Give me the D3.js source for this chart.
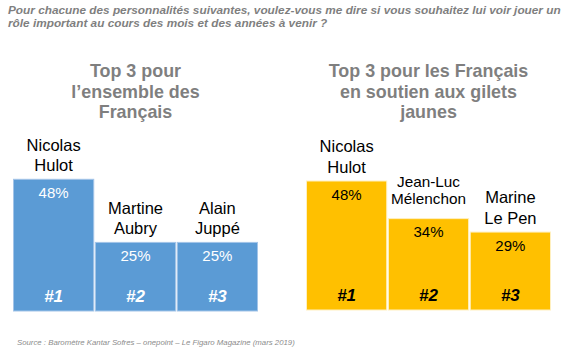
<!DOCTYPE html>
<html><head><meta charset="utf-8">
<script src="https://cdn.jsdelivr.net/npm/d3@7"></script>
<style>body{margin:0;background:#fff}svg{display:block;font-family:Arial,"Liberation Sans",sans-serif}</style>
</head><body>
<svg id="c" width="575" height="351"></svg>
<script>
const questionLines = ["Pour chacune des personnalités suivantes, voulez-vous me dire si vous souhaitez lui voir jouer un",
  "rôle important au cours des mois et des années à venir ?"];
const leftTitle = ["Top 3 pour", "l’ensemble des", "Français"];
const rightTitle = ["Top 3 pour les Français", "en soutien aux gilets", "jaunes"];
const leftNames = ["Nicolas\nHulot", "Martine\nAubry", "Alain\nJuppé"];
const leftValues = [48, 25, 25];
const rightNames = ["Nicolas\nHulot", "Jean-Luc\nMélenchon", "Marine\nLe Pen"];
const rightValues = [48, 34, 29];
const ranks = ["#1", "#2", "#3"];
const sourceText = "Source : Baromètre Kantar Sofres – onepoint – Le Figaro Magazine (mars 2019)";

const svg = d3.select("#c");

svg.append("g").selectAll("text").data(questionLines).join("text")
  .attr("x", 8).attr("y", (d, i) => 14 + i * 12.6)
  .attr("font-size", 11.8).attr("font-weight", "bold").attr("font-style", "italic")
  .attr("fill", "#7f7f7f").text(d => d);

function panel(cfg) {
  const g = svg.append("g");
  const x = d3.scaleBand().domain(ranks).range(cfg.xr).paddingInner(0.02);
  const y = d3.scaleLinear().domain([0, 48]).range([cfg.bottom, cfg.top48]);
  const data = ranks.map((r, i) => ({ rank: r, name: cfg.names[i], value: cfg.values[i] }));

  g.selectAll("text.title").data(cfg.title).join("text").attr("class", "title")
    .attr("x", (cfg.xr[0] + cfg.xr[1]) / 2).attr("y", (d, i) => 77 + i * 20.7)
    .attr("text-anchor", "middle").attr("font-size", 17.9).attr("font-weight", "bold")
    .attr("fill", "#7f7f7f").text(d => d);

  g.selectAll("rect").data(data).join("rect")
    .attr("x", d => x(d.rank)).attr("width", x.bandwidth())
    .attr("y", d => y(d.value)).attr("height", d => cfg.bottom - y(d.value))
    .attr("fill", cfg.fill).attr("stroke", cfg.stroke).attr("stroke-width", 1);

  g.selectAll("text.pct").data(data).join("text").attr("class", "pct")
    .attr("x", d => x(d.rank) + x.bandwidth() / 2).attr("y", d => y(d.value) + 18.5)
    .attr("text-anchor", "middle").attr("font-size", 15).attr("fill", cfg.textColor)
    .text(d => d.value + "%");

  g.selectAll("text.rank").data(data).join("text").attr("class", "rank")
    .attr("x", d => x(d.rank) + x.bandwidth() / 2).attr("y", cfg.bottom - 9.5)
    .attr("text-anchor", "middle").attr("font-size", 17).attr("font-weight", "bold")
    .attr("font-style", "italic").attr("fill", cfg.textColor).text(d => d.rank);

  data.forEach(d => {
    const lines = d.name.split("\n");
    const t = g.append("text").attr("text-anchor", "middle").attr("font-size", 16.5).attr("fill", "#000");
    const cx = x(d.rank) + x.bandwidth() / 2;
    const ts = lines.map(l => t.append("tspan").attr("x", cx).text(l));
    const maxW = d3.max(ts, s => s.node().getComputedTextLength());
    let fs = 16.5, lh = 20.3, gap = 8.5;
    if (maxW > 74) { fs = 16.5 * 75 / maxW; lh = 17.3; gap = 14.5; }
    t.attr("font-size", fs);
    const base = y(d.value) - gap;
    ts.forEach((s, i) => s.attr("y", base - (lines.length - 1 - i) * lh));
  });
}

panel({ xr: [13.5, 257.5], bottom: 311, top48: 179.3, title: leftTitle, names: leftNames,
  values: leftValues, fill: "#5b9bd5", stroke: "#a3c4e8", textColor: "#fff" });
panel({ xr: [306.5, 550.5], bottom: 310, top48: 181, title: rightTitle, names: rightNames,
  values: rightValues, fill: "#ffc000", stroke: "#fff0c0", textColor: "#000" });

svg.append("text").attr("x", 17).attr("y", 344.5).attr("font-size", 7.8)
  .attr("font-style", "italic").attr("fill", "#8c8c8c").text(sourceText);
</script>
</body></html>
